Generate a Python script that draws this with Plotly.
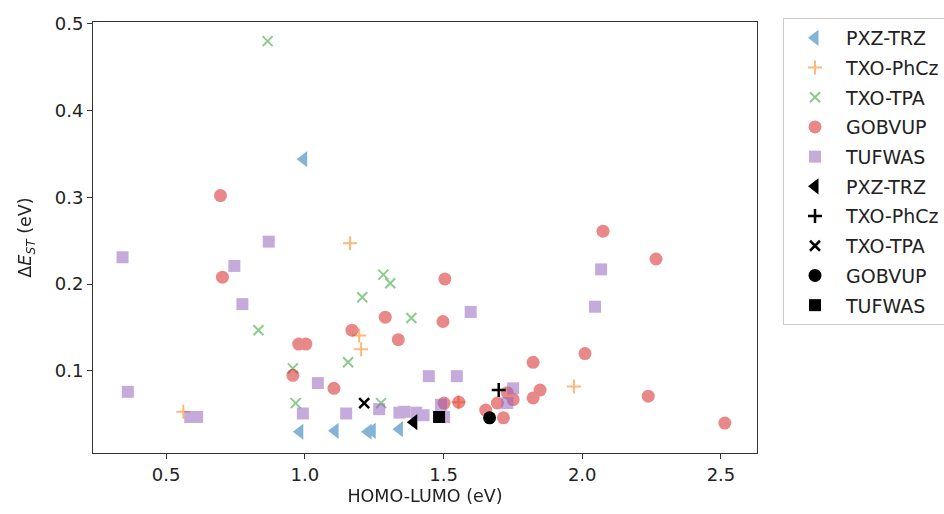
import plotly.graph_objects as go

# HOMO-LUMO gap (eV) vs singlet-triplet splitting (eV)
pxz_trz_x = [0.996, 0.982, 1.109, 1.228, 1.243, 1.341]
pxz_trz_y = [0.344, 0.030, 0.031, 0.030, 0.031, 0.033]

txo_phcz_x = [1.163, 1.196, 1.203, 0.562, 1.970, 1.554]
txo_phcz_y = [0.247, 0.141, 0.125, 0.053, 0.082, 0.064]

txo_tpa_x = [0.866, 0.833, 0.957, 0.967, 1.156, 1.207, 1.283, 1.308, 1.384, 1.275]
txo_tpa_y = [0.480, 0.147, 0.103, 0.063, 0.110, 0.185, 0.211, 0.201, 0.161, 0.063]

gobvup_x = [0.696, 0.703, 0.978, 1.004, 0.957, 1.105, 1.170, 1.290, 1.337, 1.505,
            1.498, 1.823, 2.010, 2.075, 2.266, 1.848, 1.823, 2.238, 2.514, 1.716,
            1.652, 1.694, 1.730, 1.751, 1.555, 1.502]
gobvup_y = [0.302, 0.208, 0.131, 0.131, 0.095, 0.080, 0.147, 0.162, 0.136, 0.206,
            0.157, 0.110, 0.120, 0.261, 0.229, 0.078, 0.069, 0.071, 0.040, 0.046,
            0.055, 0.063, 0.075, 0.067, 0.064, 0.063]

tufwas_x = [0.343, 0.870, 0.746, 0.775, 0.362, 0.587, 0.612, 0.993, 1.047, 1.149,
            1.268, 1.341, 1.359, 1.402, 1.428, 1.447, 1.548, 1.598, 2.068, 2.046,
            1.751, 1.730, 1.491, 1.502]
tufwas_y = [0.231, 0.249, 0.221, 0.177, 0.076, 0.047, 0.047, 0.051, 0.086, 0.051,
            0.056, 0.052, 0.053, 0.052, 0.049, 0.094, 0.094, 0.168, 0.217, 0.174,
            0.080, 0.063, 0.061, 0.047]

# reference molecules (highlighted in black)
ref_names = ["PXZ-TRZ", "TXO-PhCz", "TXO-TPA", "GOBVUP", "TUFWAS"]
ref_x = [1.393, 1.699, 1.214, 1.666, 1.484]
ref_y = [0.041, 0.078, 0.063, 0.046, 0.047]

names = ["PXZ-TRZ", "TXO-PhCz", "TXO-TPA", "GOBVUP", "TUFWAS"]
xs = [pxz_trz_x, txo_phcz_x, txo_tpa_x, gobvup_x, tufwas_x]
ys = [pxz_trz_y, txo_phcz_y, txo_tpa_y, gobvup_y, tufwas_y]
colors = ["#1f77b4", "#ff7f0e", "#2ca02c", "#d62728", "#9467bd"]
symbols = ["triangle-left", "cross-thin", "x-thin", "circle", "square"]
sizes = [14, 10, 10, 13, 12]

fig = go.Figure()

for i, (n, x, y, c, s, sz) in enumerate(zip(names, xs, ys, colors, symbols, sizes)):
    thin = s.endswith("-thin")
    fig.add_trace(go.Scatter(
        x=x, y=y, mode="markers", name=n, legendgroup=f"g{i}",
        opacity=0.55,
        marker=dict(symbol=s, size=sz, color=c,
                    line=dict(width=2 if thin else 0, color=c)),
    ))

for i, (n, x, y, s, sz) in enumerate(zip(ref_names, ref_x, ref_y, symbols, sizes)):
    thin = s.endswith("-thin")
    fig.add_trace(go.Scatter(
        x=[x], y=[y], mode="markers", name=n, legendgroup=f"r{i}",
        marker=dict(symbol=s, size=sz, color="black",
                    line=dict(width=2.5 if thin else 0, color="black")),
    ))

axis_common = dict(
    showgrid=False, zeroline=False, showline=True, mirror=True,
    linecolor="#333333", linewidth=1, ticks="outside", ticklen=5,
    tickcolor="#333333", tickfont=dict(size=18, color="#222222"),
)

fig.update_layout(
    width=944, height=514,
    margin=dict(l=93, r=187, t=22, b=61),
    paper_bgcolor="white", plot_bgcolor="white",
    font=dict(family="DejaVu Sans", size=17.5, color="#222222"),
    xaxis=dict(range=[0.2365, 2.630], tickvals=[0.5, 1.0, 1.5, 2.0, 2.5],
               ticktext=["0.5", "1.0", "1.5", "2.0", "2.5"],
               title=dict(text="HOMO-LUMO (eV)", standoff=6,
                          font=dict(size=17.5)), **axis_common),
    yaxis=dict(range=[0.0055, 0.502], tickvals=[0.1, 0.2, 0.3, 0.4, 0.5],
               ticktext=["0.1", "0.2", "0.3", "0.4", "0.5"],
               title=dict(text="Δ<i>E</i><sub><i>ST</i></sub> (eV)", standoff=18,
                          font=dict(size=17.5)),
               **axis_common),
    # legend anchored to the page so it overflows the right edge without
    # shrinking the plotting area
    legend=dict(xref="container", yref="container",
                x=783 / 944, y=1 - 18 / 514, xanchor="left", yanchor="top",
                bordercolor="#cccccc", borderwidth=1, bgcolor="white",
                font=dict(size=19, color="#222222"), tracegroupgap=2,
                itemwidth=52, itemsizing="trace", maxheight=480),
    showlegend=True,
)

fig.write_html("out.html")
